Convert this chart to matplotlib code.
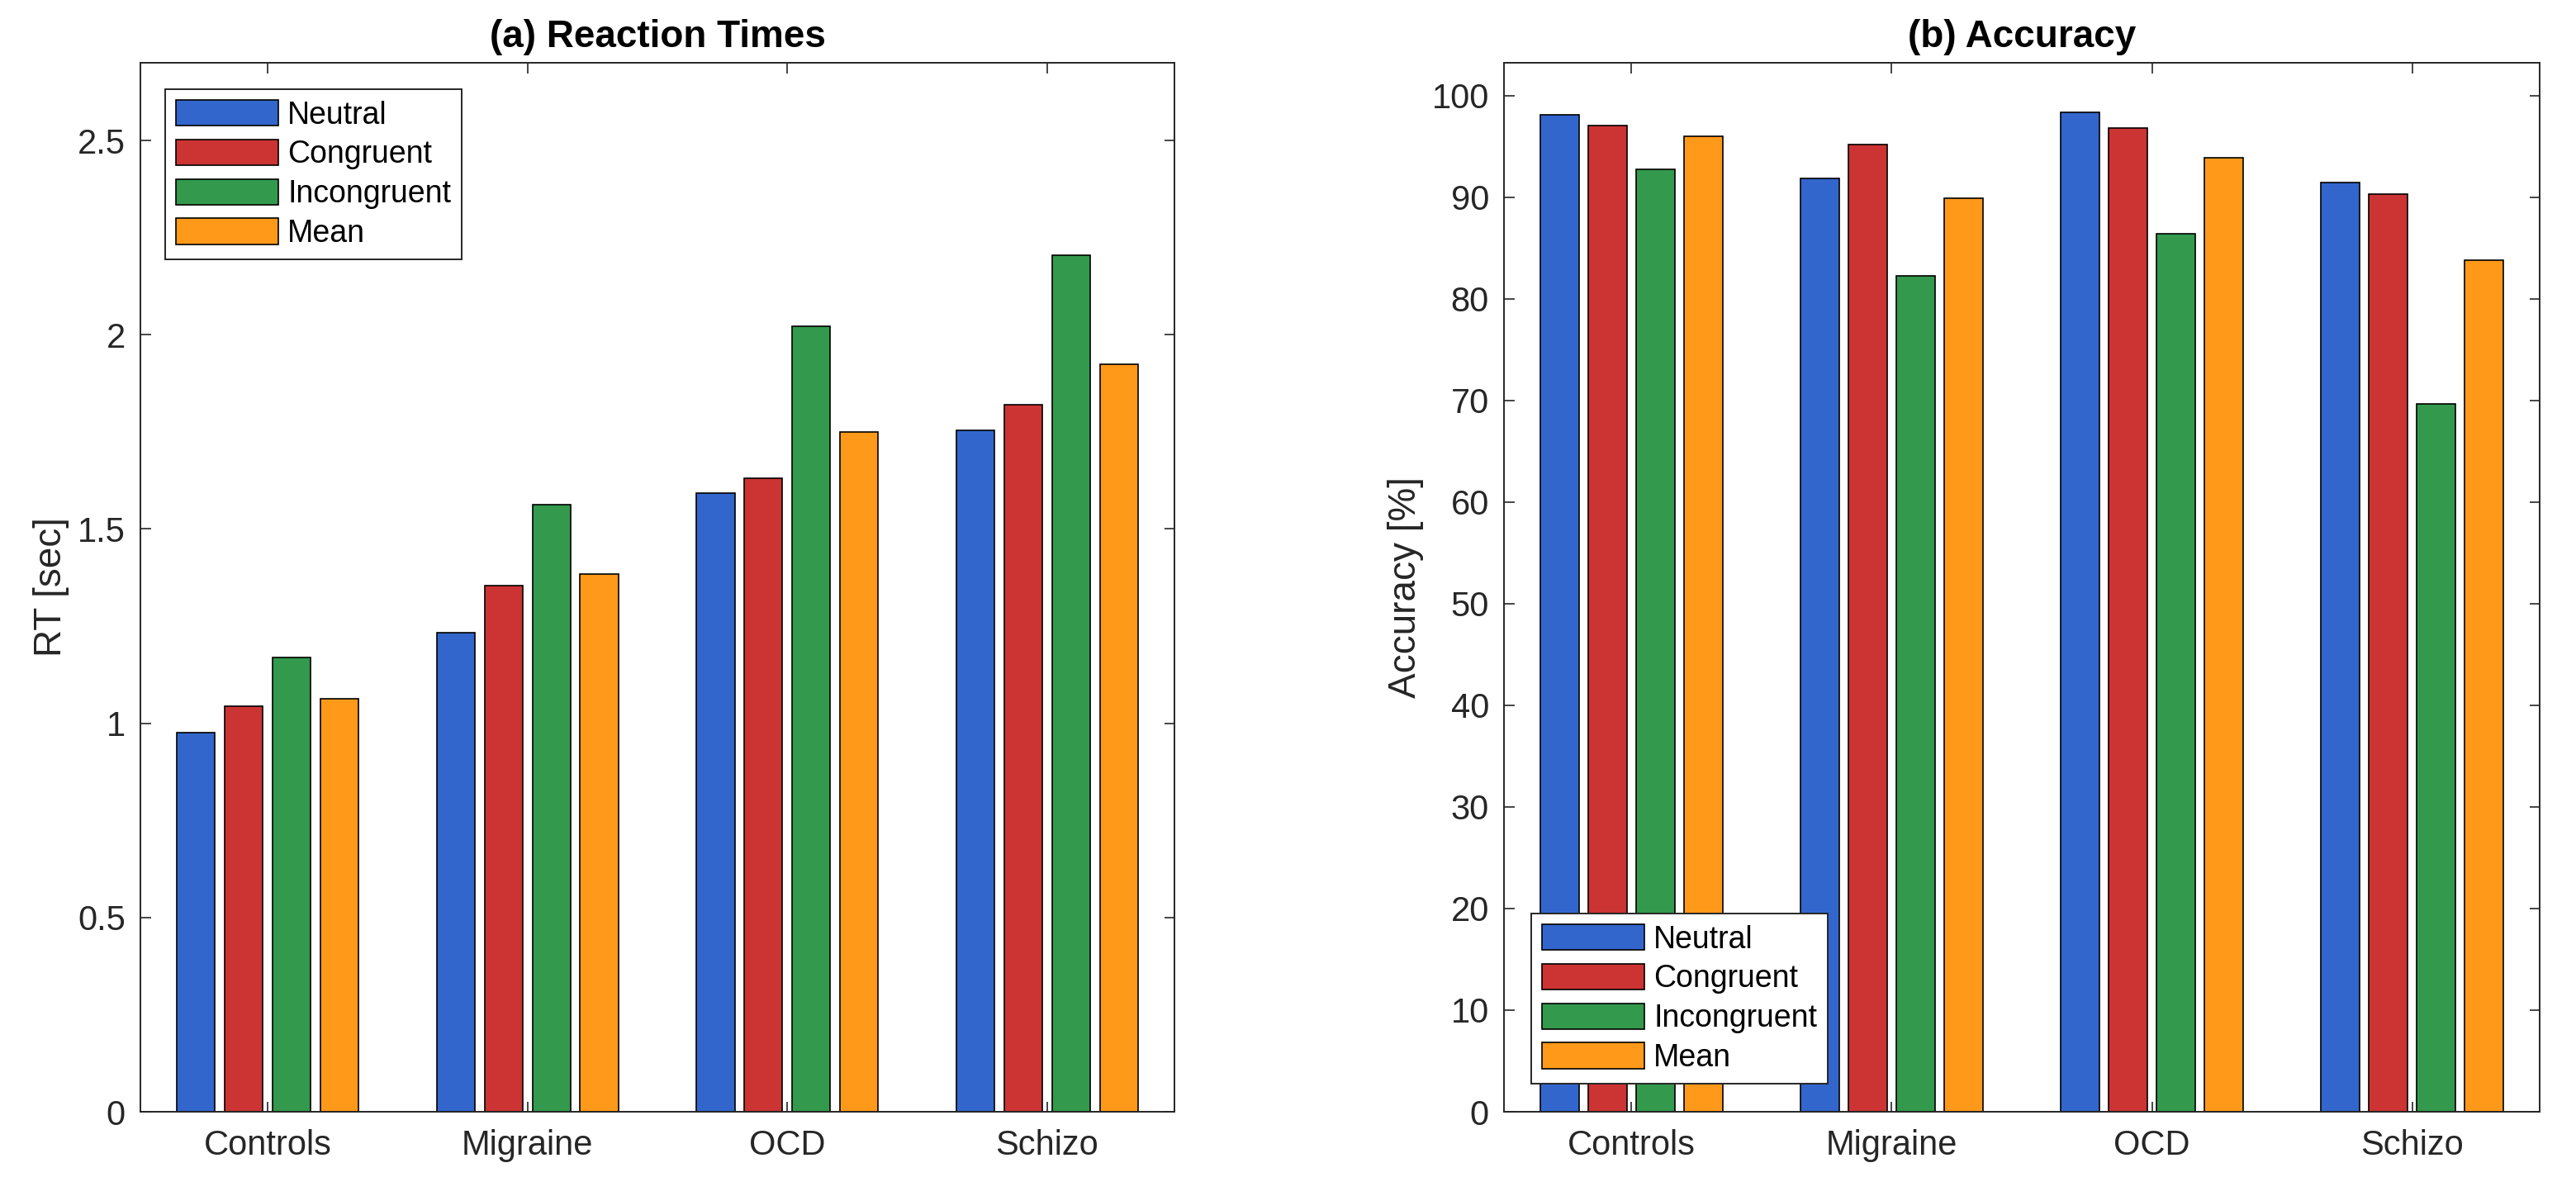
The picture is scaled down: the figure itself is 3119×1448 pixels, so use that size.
import numpy as np
import matplotlib.pyplot as plt
from matplotlib.ticker import FuncFormatter

plt.rcParams['font.family'] = ['Liberation Sans', 'DejaVu Sans']

# data
groups = ['Controls', 'Migraine', 'OCD', 'Schizo']
conditions = ['Neutral', 'Congruent', 'Incongruent', 'Mean']
colors = ['#3366cc', '#cc3333', '#33994c', '#ff9919']

rt_neutral = [0.975, 1.234, 1.593, 1.754]
rt_congruent = [1.043, 1.354, 1.630, 1.819]
rt_incongruent = [1.170, 1.563, 2.022, 2.204]
rt_mean = [1.064, 1.384, 1.749, 1.924]

acc_neutral = [98.1, 91.9, 98.4, 91.5]
acc_congruent = [97.1, 95.2, 96.8, 90.3]
acc_incongruent = [92.8, 82.3, 86.4, 69.7]
acc_mean = [96.0, 89.9, 93.9, 83.8]

rt_yticks = [0, 0.5, 1, 1.5, 2, 2.5]
acc_yticks = list(range(0, 101, 10))

rt_series = [rt_neutral, rt_congruent, rt_incongruent, rt_mean]
acc_series = [acc_neutral, acc_congruent, acc_incongruent, acc_mean]

W, H = 3119, 1448
dpi = 200
fig = plt.figure(figsize=(W / dpi, H / dpi), dpi=dpi)

ax1 = fig.add_axes([170 / W, 102 / H, 1252 / W, 1270 / H])
ax2 = fig.add_axes([1821 / W, 102 / H, 1254 / W, 1270 / H])

x = np.arange(1, len(groups) + 1)
step = 0.184
width = 0.147
tick_col = '#262626'


def draw(ax, series, yticks, ylim, title, ylabel, loc, anchor):
    for i, (vals, name) in enumerate(zip(series, conditions)):
        ax.bar(x + (i - 1.5) * step, vals, width, color=colors[i],
               edgecolor='black', linewidth=0.6, label=name, zorder=2)
    ax.set_xlim(0.51, 4.49)
    ax.set_ylim(*ylim)
    ax.set_xticks(x)
    ax.set_xticklabels(groups)
    ax.set_yticks(yticks)
    ax.yaxis.set_major_formatter(FuncFormatter(lambda v, p: '%g' % v))
    ax.tick_params(direction='in', length=4.5, width=0.6, colors=tick_col,
                   labelsize=15, top=True, right=True, pad=6.5)
    ax.tick_params(axis='x', pad=7.5)
    for s in ax.spines.values():
        s.set_color(tick_col)
        s.set_linewidth(0.7)
    ax.set_title(title, fontsize=16.5, fontweight='bold', pad=7)
    ax.set_ylabel(ylabel, fontsize=16.5, color=tick_col, labelpad=3.5)
    leg = ax.legend(loc=loc, bbox_to_anchor=anchor, fontsize=13.5,
                    fancybox=False, framealpha=1, edgecolor=tick_col,
                    handlelength=3.3, handleheight=0.9, labelspacing=0.3,
                    handletextpad=0.3, borderpad=0.35, borderaxespad=0)
    leg.get_frame().set_linewidth(0.7)


draw(ax1, rt_series, rt_yticks, (0, 2.7), '(a) Reaction Times', 'RT [sec]',
     'upper left', (30 / 1252, 1 - 32 / 1270))
draw(ax2, acc_series, acc_yticks, (0, 103.25), '(b) Accuracy', 'Accuracy [%]',
     'lower left', (33 / 1254, 34 / 1270))

fig.savefig('out.png', dpi=dpi, facecolor='white')
